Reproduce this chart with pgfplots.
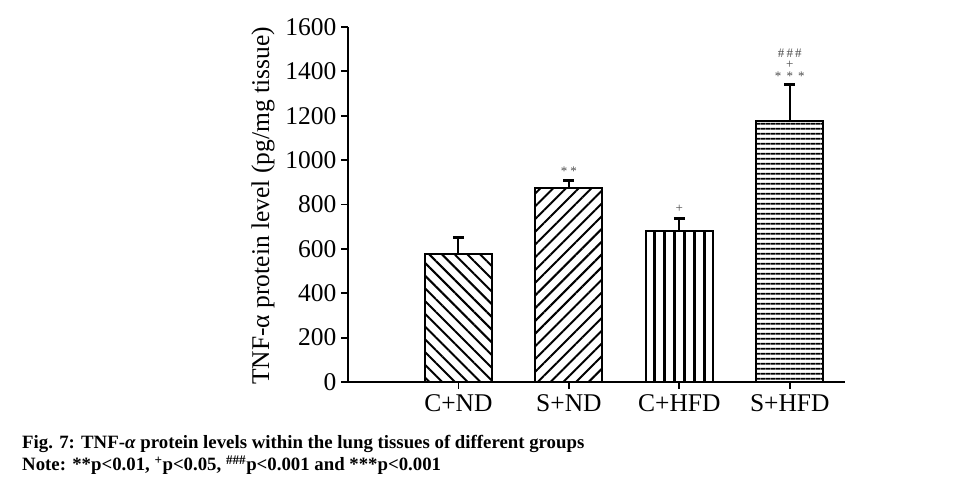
\documentclass[border=0pt]{standalone}
\usepackage{pgfplots}
\pgfplotsset{compat=1.18}
\usepackage{fontspec}
\setmainfont{Liberation Serif}
\usetikzlibrary{patterns,patterns.meta}
\pgfdeclarepatternformonly{vthick}{\pgfqpoint{0bp}{0bp}}{\pgfqpoint{10bp}{40bp}}{\pgfqpoint{10bp}{40bp}}{%
  \pgfsetlinewidth{3bp}%
  \pgfpathmoveto{\pgfqpoint{5bp}{-2bp}}\pgfpathlineto{\pgfqpoint{5bp}{42bp}}\pgfusepath{stroke}}
\begin{document}
\begin{tikzpicture}[x=1bp,y=1bp]
\path[use as bounding box] (0,0) rectangle (965,487);
\begin{axis}[
  at={(348bp,105bp)}, anchor=south west,
  scale only axis, width=497bp, height=355bp,
  xmin=0, xmax=4.5, ymin=0, ymax=1600,
  axis lines*=left,
  axis line style={line width=1.8bp},
  xtick={1,2,3,4},
  xticklabels={C+ND,S+ND,C+HFD,S+HFD},
  ytick={0,200,...,1600},
  tick align=outside, tick pos=left,
  major tick length=7bp,
  tick style={line width=1.8bp, black},
  /pgf/number format/assume math mode=true,
  /pgf/number format/1000 sep={},
  ticklabel style={font=\fontsize{25.5bp}{28bp}\selectfont},
  xticklabel style={yshift=-2bp},
  yticklabel style={xshift=-1bp},
  ybar, bar width=67bp,
  every axis plot/.append style={bar shift=0pt, line width=2bp, draw=black},
  error bars/y dir=plus, error bars/y explicit,
  error bars/error bar style={line width=2bp, black},
  error bars/error mark options={line width=3bp, mark size=5.5bp, black, rotate=90},
  clip=false,
]
\addplot[pattern={Lines[angle=-45, distance=9bp, line width=2bp]}, draw=black, line width=2bp]
  coordinates {(1,577) +- (0,72)};
\addplot[pattern={Lines[angle=45, distance=9bp, line width=2bp]}, draw=black, line width=2bp]
  coordinates {(2,874) +- (0,36)};
\addplot[pattern=vthick, draw=black, line width=2bp]
  coordinates {(3,680) +- (0,59)};
\addplot[pattern={Lines[angle=0, distance=5.2bp, line width=2bp]}, draw=black, line width=2bp]
  coordinates {(4,1176) +- (0,167)};
\begin{scope}[every node/.style={font=\fontsize{13bp}{14bp}\selectfont, text=black!70, inner sep=0pt}]
\node at (axis cs:2,951) {*\:*};
\node at (axis cs:3,780) {+};
\node at (axis cs:4,1379) {*\:\,*\:\,*};
\node at (axis cs:4,1429) {+};
\node at (axis cs:4,1483) {\#\,\#\,\#};
\end{scope}
\end{axis}
\node[rotate=90, anchor=center, inner sep=0pt, font=\fontsize{25.5bp}{28bp}\selectfont] at (263,281) {TNF-α protein level (pg/mg tissue)};
\node[anchor=base west, inner sep=0pt, font=\fontsize{18.8bp}{20bp}\selectfont\bfseries] at (22,38) {Fig. 7: TNF-\textit{α} protein levels within the lung tissues of different groups};
\node[anchor=base west, inner sep=0pt, font=\fontsize{18.8bp}{20bp}\selectfont\bfseries] at (22,16) {Note: **p<0.01, \textsuperscript{+}p<0.05, \textsuperscript{\#\#\#}p<0.001 and ***p<0.001};
\end{tikzpicture}
\end{document}
